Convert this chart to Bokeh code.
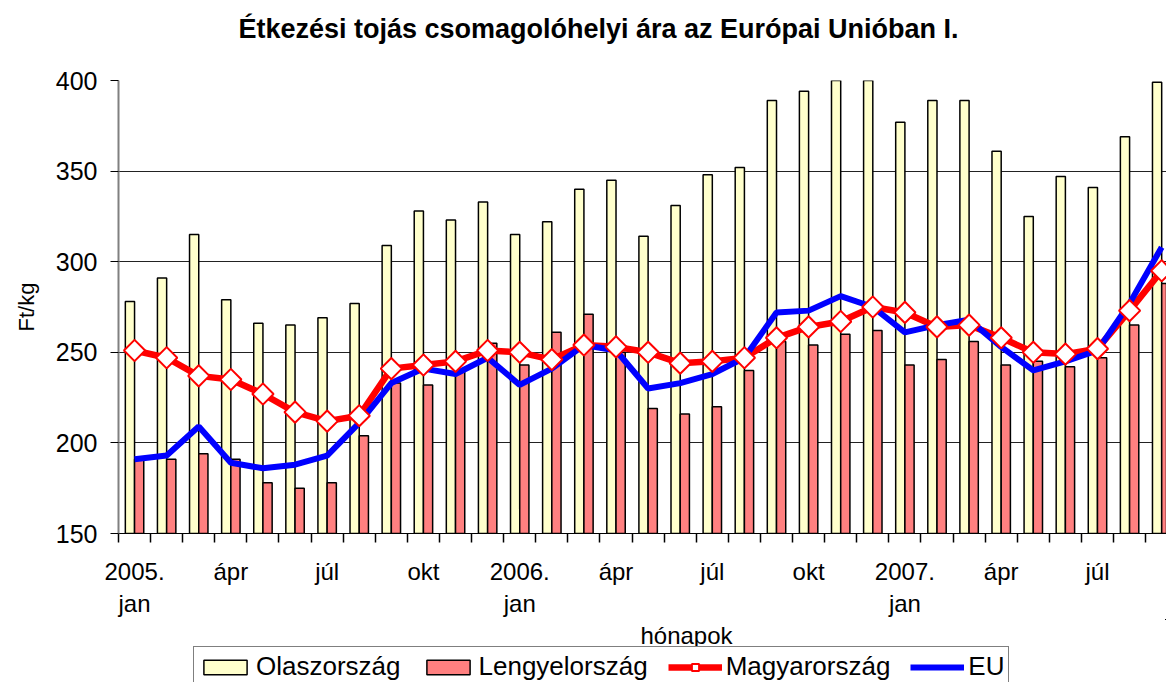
import math
from bokeh.plotting import figure
from bokeh.layouts import column
from bokeh.models import FixedTicker, Legend, LegendItem, Label, Range1d, ColumnDataSource
from bokeh.embed import file_html
from bokeh.resources import INLINE

# ---- data ----
months = list(range(33))  # 2005 jan .. 2007 sep
tick_positions = [0, 3, 6, 9, 12, 15, 18, 21, 24, 27, 30]
tick_labels = ["2005.\njan", "ápr", "júl", "okt", "2006.\njan", "ápr", "júl", "okt",
               "2007.\njan", "ápr", "júl"]
olaszorszag = [278, 291, 315, 279, 266, 265, 269, 277, 309, 328, 323, 333, 315, 322, 340, 345,
               314, 331, 348, 352, 389, 394, 400, 401, 377, 389, 389, 361, 325, 347, 341, 369, 399]
lengyelorszag = [191, 191, 194, 191, 178, 175, 178, 204, 233, 232, 240, 255, 243, 261, 271, 250,
                 219, 216, 220, 240, 256, 254, 260, 262, 243, 246, 256, 243, 245, 242, 247, 265, 288]
magyarorszag = [251, 247, 237, 235, 227, 217, 212, 215, 241, 243, 245, 251, 250, 246, 254, 253,
                250, 244, 245, 247, 258, 264, 267, 275, 272, 264, 265, 258, 250, 249, 252, 273, 295]
eu = [191, 193, 209, 189, 186, 188, 193, 211, 233, 241, 238, 247, 232, 241, 254, 251,
      230, 233, 238, 247, 272, 273, 281, 275, 261, 265, 268, 253, 240, 245, 251, 277, 308]
title_text = "Étkezési tojás csomagolóhelyi ára az Európai Unióban I."

FONT = "Liberation Sans"
bw = 0.287

src = ColumnDataSource(dict(
    x_o=[m - bw / 2 for m in months],
    x_l=[m + bw / 2 for m in months],
    x=months, o=olaszorszag, l=lengyelorszag, h=magyarorszag, e=eu))


def draw(fig):
    r_o = fig.vbar(x="x_o", top="o", bottom=150, width=bw, source=src,
                   fill_color="#FFFFCC", line_color="black", line_width=1.5)
    r_l = fig.vbar(x="x_l", top="l", bottom=150, width=bw, source=src,
                   fill_color="#FF8080", line_color="black", line_width=1.5)
    r_h = fig.line(x="x", y="h", source=src, line_color="#FF0000", line_width=6.5)
    r_e = fig.line(x="x", y="e", source=src, line_color="#0000FF", line_width=6)
    r_hm = fig.scatter(x="x", y="h", source=src, marker="square", angle=math.pi / 4, size=15,
                       fill_color="white", line_color="#FF0000", line_width=2)
    return r_o, r_l, r_h, r_hm, r_e


def strip(h):
    # the data lies far outside these ranges, so nothing but annotations shows here
    f = figure(width=1166, height=h, output_backend="svg", toolbar_location=None,
               x_range=Range1d(-1000, -999), y_range=Range1d(-1000, -999),
               x_axis_location=None, y_axis_location=None,
               min_border_left=118, min_border_top=0, min_border_right=0, min_border_bottom=0,
               outline_line_color=None, background_fill_color="white")
    f.xgrid.grid_line_color = None
    f.ygrid.grid_line_color = None
    return f


# ---- top strip: title ----
t = strip(60)
t.add_layout(Label(x=480, y=32, x_units="screen", y_units="screen", text=title_text,
                   text_font=FONT, text_font_size="27px", text_font_style="bold",
                   text_align="center", text_baseline="middle", text_color="black"))

# ---- main chart ----
p = figure(width=1166, height=559, output_backend="svg", toolbar_location=None,
           x_range=Range1d(-0.5, 32.15), y_range=Range1d(150, 400),
           min_border_left=118, min_border_top=20, min_border_right=0, min_border_bottom=86,
           outline_line_color=None, background_fill_color="white")
draw(p)

p.xgrid.grid_line_color = None
p.ygrid.grid_line_color = "#222222"
p.ygrid.grid_line_width = 1

p.xaxis.ticker = FixedTicker(ticks=tick_positions, minor_ticks=[m - 0.5 for m in months] + [32.5])
p.xaxis.major_label_overrides = {t_: s for t_, s in zip(tick_positions, tick_labels)}
p.xaxis.major_tick_line_color = None
p.xaxis.major_tick_out = 0
p.xaxis.major_tick_in = 0
p.xaxis.minor_tick_line_color = "black"
p.xaxis.minor_tick_line_width = 1.5
p.xaxis.minor_tick_out = 9
p.xaxis.minor_tick_in = 0
p.xaxis.axis_line_color = "black"
p.xaxis.major_label_standoff = 15
p.xaxis.major_label_text_font = FONT
p.xaxis.major_label_text_font_size = "24px"
p.xaxis.major_label_text_color = "black"

p.yaxis.ticker = FixedTicker(ticks=[150, 200, 250, 300, 350, 400])
p.yaxis.minor_tick_line_color = None
p.yaxis.major_tick_out = 8
p.yaxis.major_tick_in = 0
p.yaxis.major_tick_line_color = "black"
p.yaxis.axis_line_color = "#808080"
p.yaxis.axis_line_width = 2
p.yaxis.major_label_standoff = 13
p.yaxis.major_label_text_font = FONT
p.yaxis.major_label_text_font_size = "25px"
p.yaxis.major_label_text_color = "black"
p.yaxis.axis_label = "Ft/kg"
p.yaxis.axis_label_text_font = FONT
p.yaxis.axis_label_text_font_size = "22px"
p.yaxis.axis_label_text_font_style = "normal"
p.yaxis.axis_label_text_color = "black"
p.yaxis.axis_label_standoff = 14

# ---- bottom strip: x-axis name and legend ----
q = strip(63)
q_o, q_l, q_h, q_hm, q_e = draw(q)  # out of this strip's range; used for the legend glyphs

q.add_layout(Label(x=568, y=47, x_units="screen", y_units="screen", text="hónapok",
                   text_font=FONT, text_font_size="24px", text_align="center",
                   text_baseline="middle", text_color="black"))

legend = Legend(items=[
    LegendItem(label="Olaszország", renderers=[q_o]),
    LegendItem(label="Lengyelország", renderers=[q_l]),
    LegendItem(label="Magyarország", renderers=[q_h, q_hm]),
    LegendItem(label="EU", renderers=[q_e]),
], orientation="horizontal", location=(75, -5),
    label_text_font=FONT, label_text_font_size="26px", label_text_color="black",
    glyph_width=54, glyph_height=18, spacing=20, padding=4, margin=0,
    label_standoff=4, border_line_color="black", border_line_width=1,
    background_fill_alpha=1)
q.add_layout(legend, "center")

open("out.html", "w").write(file_html(column(t, p, q, spacing=0), INLINE))
